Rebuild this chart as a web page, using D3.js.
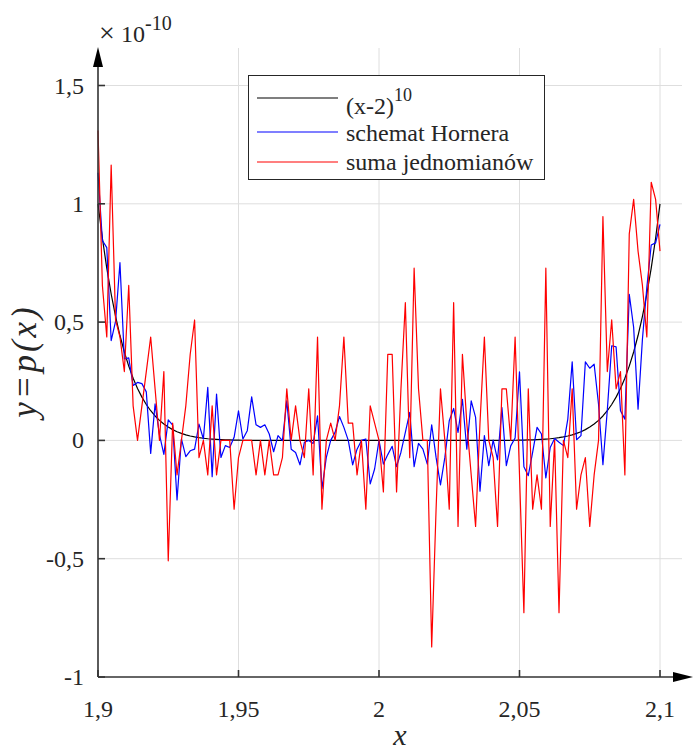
<!DOCTYPE html>
<html>
<head>
<meta charset="utf-8">
<script src="https://cdn.jsdelivr.net/npm/d3@7"></script>
<style>
  html, body { margin: 0; padding: 0; background: #fff; }
</style>
</head>
<body>
<svg id="chart" width="695" height="750"></svg>
<script>
// Sample grid: 129 points over [1.9, 2.1]
const xStart = 1.9, xEnd = 2.1, nSamples = 129;

// Exact values of (x-2)^10 on the grid, in units of 1e-10
const exactVals = [
  1.0000, 0.8543, 0.7280, 0.6188, 0.5245, 0.4433, 0.3737, 0.3140, 0.2631, 0.2197,
  0.1829, 0.1517, 0.1254, 0.1033, 0.0847, 0.0692, 0.0563, 0.0456, 0.0368, 0.0295,
  0.0236, 0.0187, 0.0148, 0.0116, 0.0091, 0.0070, 0.0055, 0.0042, 0.0032, 0.0024,
  0.0018, 0.0013, 0.0010, 0.0007, 0.0005, 0.0004, 0.0003, 0.0002, 0.0001, 0.0001,
  0.0001, 0, 0, 0, 0, 0, 0, 0, 0, 0,
  0, 0, 0, 0, 0, 0, 0, 0, 0, 0,
  0, 0, 0, 0, 0, 0, 0, 0, 0, 0,
  0, 0, 0, 0, 0, 0, 0, 0, 0, 0,
  0, 0, 0, 0, 0, 0, 0, 0, 0.0001, 0.0001,
  0.0001, 0.0002, 0.0003, 0.0004, 0.0005, 0.0007, 0.0010, 0.0013, 0.0018, 0.0024,
  0.0032, 0.0042, 0.0055, 0.0070, 0.0091, 0.0116, 0.0148, 0.0187, 0.0236, 0.0295,
  0.0368, 0.0456, 0.0563, 0.0692, 0.0847, 0.1033, 0.1254, 0.1517, 0.1829, 0.2197,
  0.2631, 0.3140, 0.3737, 0.4433, 0.5245, 0.6188, 0.7280, 0.8543, 1.0000
];

// Horner scheme evaluation, units of 1e-10
const hornerVals = [
  1.131, 0.845, 0.815, 0.422, 0.503, 0.751, 0.344, 0.349, 0.232, 0.245,
  0.240, 0.205, -0.055, 0.154, 0.024, -0.059, 0.087, 0.065, -0.252, 0.006,
  -0.069, -0.044, -0.037, 0.069, 0.006, 0.224, -0.153, 0.196, -0.072, -0.022,
  -0.030, 0.013, 0.125, 0.006, 0.041, 0.184, 0.066, 0.055, 0.066, 0.027,
  -0.048, 0.020, -0.001, 0.167, -0.037, -0.051, -0.103, -0.008, 0.000, -0.013,
  0.104, -0.205, -0.072, 0.000, 0.034, 0.101, 0.055, 0.000, -0.103, -0.037,
  0.000, 0.006, -0.184, -0.121, 0.000, -0.100, -0.060, -0.025, -0.111, -0.050,
  0.034, 0.118, -0.111, -0.013, -0.037, -0.100, 0.066, -0.072, -0.188, -0.072,
  0.083, 0.135, 0.034, 0.174, -0.037, 0.167, 0.097, -0.215, 0.020, -0.107,
  0.001, -0.082, 0.139, -0.107, -0.023, 0.010, 0.290, -0.111, -0.149, -0.050,
  0.055, 0.027, -0.159, -0.030, 0.008, -0.008, -0.022, 0.090, 0.332, 0.003,
  0.020, 0.332, 0.305, 0.322, 0.153, -0.103, 0.128, 0.400, 0.395, 0.125,
  0.090, 0.617, 0.477, 0.132, 0.428, 0.646, 0.826, 0.835, 0.913
];

// Sum of monomials evaluation, units of 1e-10
const monomialVals = [
  1.310, 0.655, 0.437, 1.164, 0.509, 0.437, 0.291, 0.655, 0.146, 0.000,
  0.146, 0.291, 0.437, 0.218, 0.000, 0.291, -0.509, 0.073, -0.146, 0.000,
  0.146, 0.364, 0.509, -0.073, 0.000, -0.146, 0.146, -0.146, 0.000, 0.000,
  0.000, -0.291, -0.073, 0.000, 0.000, 0.000, -0.146, 0.000, -0.146, 0.000,
  -0.146, -0.146, -0.073, 0.218, 0.000, 0.146, 0.000, -0.073, 0.218, -0.146,
  0.437, -0.291, 0.000, 0.073, 0.000, 0.146, 0.437, 0.073, 0.073, -0.146,
  0.000, -0.291, 0.146, 0.073, 0.000, -0.218, 0.364, 0.364, -0.218, 0.218,
  0.582, -0.073, 0.728, 0.218, 0.000, 0.000, -0.873, -0.291, 0.218, 0.000,
  -0.291, 0.582, -0.364, 0.364, 0.073, -0.146, -0.364, 0.073, 0.437, 0.000,
  -0.073, -0.364, 0.218, 0.218, 0.000, 0.437, -0.146, -0.728, 0.218, -0.291,
  -0.146, -0.291, 0.728, -0.364, 0.000, -0.728, 0.000, -0.073, 0.218, -0.291,
  -0.146, -0.073, -0.364, -0.146, 0.000, 0.946, 0.291, 0.509, 0.218, 0.291,
  -0.146, 0.873, 1.019, 0.800, 0.655, 0.437, 1.091, 1.019, 0.800
];

const xTickVals = [1.9, 1.95, 2, 2.05, 2.1];
const xTickLabels = ["1,9", "1,95", "2", "2,05", "2,1"];
const yTickVals = [-1, -0.5, 0, 0.5, 1, 1.5];
const yTickLabels = ["-1", "-0,5", "0", "0,5", "1", "1,5"];

const seriesNames = ["(x-2)", "schemat Hornera", "suma jednomianów"];
const seriesColors = ["#000000", "#0000ff", "#ff0000"];

const serif = "'Liberation Serif', 'Times New Roman', serif";
const textColor = "#262626";

const svg = d3.select("#chart");

const x = d3.scaleLinear().domain([xStart, xEnd]).range([98, 660]);
const y = d3.scaleLinear().domain([-1, 1.5]).range([677, 85.5]);

const xs = d3.range(nSamples).map(i => xStart + (xEnd - xStart) * i / (nSamples - 1));

function label(parent, px, py, size, str) {
  return parent.append("text")
    .attr("x", px).attr("y", py)
    .attr("font-family", serif)
    .attr("font-size", size)
    .attr("fill", textColor)
    .text(str);
}

// grid
const grid = svg.append("g").attr("stroke", "#dedede").attr("stroke-width", 1);
xTickVals.slice(1).forEach(v => {
  grid.append("line").attr("x1", x(v)).attr("x2", x(v)).attr("y1", y(-1)).attr("y2", 48);
});
yTickVals.slice(1).forEach(v => {
  grid.append("line").attr("x1", x(xStart)).attr("x2", 682).attr("y1", y(v)).attr("y2", y(v));
});

// series
const line = d3.line().x((d, i) => x(xs[i])).y(d => y(d));
[exactVals, hornerVals, monomialVals].forEach((vals, k) => {
  svg.append("path")
    .attr("d", line(vals))
    .attr("fill", "none")
    .attr("stroke", seriesColors[k])
    .attr("stroke-width", 1.2)
    .attr("stroke-linejoin", "round");
});

// axes
const axisColor = "#333";
svg.append("line").attr("x1", x(xStart)).attr("x2", 676).attr("y1", y(-1)).attr("y2", y(-1))
  .attr("stroke", axisColor).attr("stroke-width", 1.6);
svg.append("line").attr("x1", x(xStart)).attr("x2", x(xStart)).attr("y1", y(-1)).attr("y2", 64)
  .attr("stroke", axisColor).attr("stroke-width", 1.6);
svg.append("path").attr("d", "M693,677 L673,672 L673,682 Z").attr("fill", "#000");
svg.append("path").attr("d", "M98,47 L93,67 L103,67 Z").attr("fill", "#000");

// ticks
xTickVals.forEach(v => {
  svg.append("line").attr("x1", x(v)).attr("x2", x(v)).attr("y1", y(-1)).attr("y2", y(-1) - 7)
    .attr("stroke", axisColor).attr("stroke-width", 1.6);
});
yTickVals.forEach(v => {
  svg.append("line").attr("x1", x(xStart)).attr("x2", x(xStart) + 7).attr("y1", y(v)).attr("y2", y(v))
    .attr("stroke", axisColor).attr("stroke-width", 1.6);
});

// tick labels
xTickVals.forEach((v, i) => {
  label(svg, x(v), 717, 24, xTickLabels[i]).attr("text-anchor", "middle");
});
yTickVals.forEach((v, i) => {
  label(svg, 84, y(v) + 8, 24, yTickLabels[i]).attr("text-anchor", "end");
});

// exponent marker
label(svg, 99, 42, 28, "\u00d7");
const ex = label(svg, 121, 42, 24, null);
ex.append("tspan").text("10");
ex.append("tspan").attr("font-size", 20).attr("dy", -12).text("-10");

// axis labels
label(svg, 400, 745, 30, "x").attr("text-anchor", "middle").attr("font-style", "italic");
label(svg, 0, 0, 35, "y=p(x)")
  .attr("transform", "translate(36,361) rotate(-90)")
  .attr("letter-spacing", 3)
  .attr("text-anchor", "middle").attr("font-style", "italic");

// legend
const lg = svg.append("g");
lg.append("rect").attr("x", 248.5).attr("y", 75.5).attr("width", 296).attr("height", 104)
  .attr("fill", "#fff").attr("stroke", "#262626").attr("stroke-width", 1);
const rowY = [98, 132, 162];
const textY = [114, 141, 170];
seriesNames.forEach((name, k) => {
  lg.append("line").attr("x1", 257).attr("x2", 338).attr("y1", rowY[k]).attr("y2", rowY[k])
    .attr("stroke", seriesColors[k]).attr("stroke-width", 1.2);
  const t = label(lg, 346, textY[k], 24, null);
  t.append("tspan").text(name);
  if (k === 0) t.append("tspan").attr("font-size", 18).attr("dy", -13).text("10");
});
</script>
</body>
</html>
